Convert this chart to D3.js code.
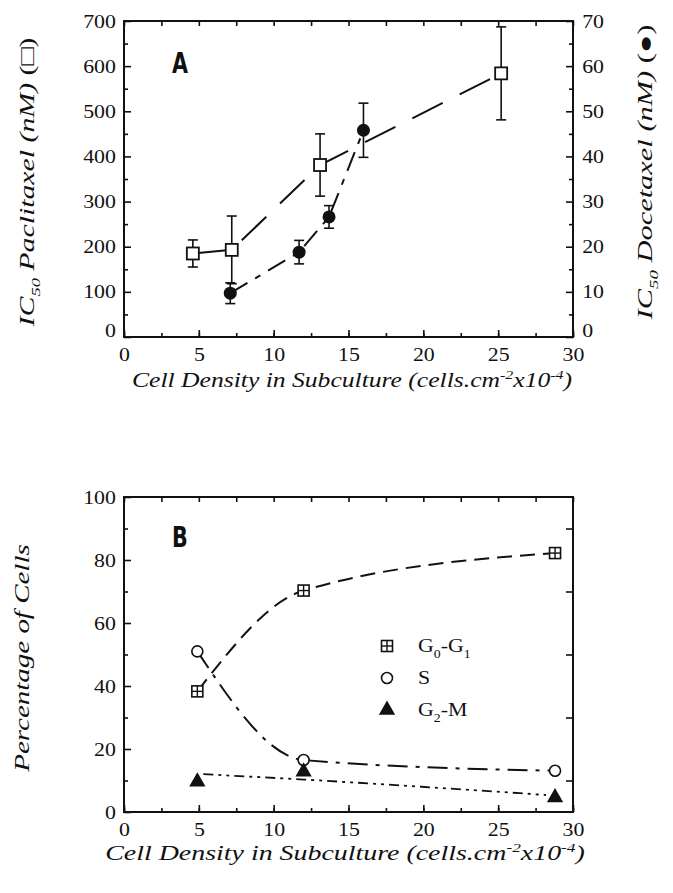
<!DOCTYPE html>
<html>
<head>
<meta charset="utf-8">
<script src="https://cdn.jsdelivr.net/npm/d3@7"></script>
<style>
  body { margin: 0; background: #fff; }
  svg { display: block; }
</style>
</head>
<body>
<div id="chart"></div>
<script>
// Panel A - IC50 against subculture density
const paclDensity = [4.6, 7.2, 13.1, 25.2];
const paclIC50 = [185, 193, 381, 584];
const paclErr = [30, 75, 69, 103];

const doceDensity = [7.1, 11.7, 13.7, 16.0];
const doceIC50 = [9.7, 18.8, 26.6, 45.8];
const doceErr = [2.3, 2.6, 2.5, 6.0];

// Panel B - cell cycle distribution
const cycleDensity = [4.9, 12.0, 28.8];
const g0g1 = [38.3, 70.3, 82.2];
const sPhase = [51.0, 16.5, 13.1];
const g2m = [9.6, 12.8, 4.6];
// G2-M trend line (it does not go through the points)
const g2mFitX = [5.3, 12.0, 20.6, 28.2];
const g2mFitY = [12.0, 10.3, 7.8, 5.4];

const xTicks = [0, 5, 10, 15, 20, 25, 30];
const paclTicks = [0, 100, 200, 300, 400, 500, 600, 700];
const doceTicks = [0, 10, 20, 30, 40, 50, 60, 70];
const pctTicks = [0, 20, 40, 60, 80, 100];

const width = 673, height = 893;
const left = 124, right = 573;
const serif = "'Liberation Serif', 'Times New Roman', serif";
const ink = "#111";

const svg = d3.select("#chart").append("svg")
  .attr("width", width)
  .attr("height", height);

const x = d3.scaleLinear().domain([0, 30]).range([left, right]);
const yA = d3.scaleLinear().domain([0, 700]).range([337, 21]);
const yA2 = d3.scaleLinear().domain([0, 70]).range([337, 21]);
const yB = d3.scaleLinear().domain([0, 100]).range([812, 497]);

const minorX = d3.range(0, 30.01, 2.5);

// boxed frame, every tick pointing inwards
function frame(y, yMajor, yMinor, withRightLabels, yRight) {
  const top = y.range()[1], bottom = y.range()[0];
  const g = svg.append("g");

  g.append("g")
    .attr("transform", `translate(0,${bottom})`)
    .call(d3.axisBottom(x).tickValues(xTicks).tickSize(-7).tickPadding(11).tickFormat(d3.format("d")))
    .call(a => a.select(".domain").remove());
  g.append("g")
    .attr("transform", `translate(0,${bottom})`)
    .call(d3.axisBottom(x).tickValues(minorX).tickSize(-4).tickFormat(""))
    .call(a => a.select(".domain").remove());
  g.append("g")
    .attr("transform", `translate(0,${top})`)
    .call(d3.axisTop(x).tickValues(minorX).tickSize(-5).tickFormat(""))
    .call(a => a.select(".domain").remove());

  const yAxis = g.append("g")
    .attr("transform", `translate(${left},0)`)
    .call(d3.axisLeft(y).tickValues(yMajor).tickSize(-7).tickPadding(7))
    .call(a => a.select(".domain").remove());
  g.append("g")
    .attr("transform", `translate(${left},0)`)
    .call(d3.axisLeft(y).tickValues(yMinor).tickSize(-4).tickFormat(""))
    .call(a => a.select(".domain").remove());

  let rAxis = null;
  if (withRightLabels) {
    rAxis = g.append("g")
      .attr("transform", `translate(${right},0)`)
      .call(d3.axisRight(yRight).tickValues(doceTicks).tickSize(-7).tickPadding(8))
      .call(a => a.select(".domain").remove());
    g.append("g")
      .attr("transform", `translate(${right},0)`)
      .call(d3.axisRight(yRight).tickValues(d3.range(5, 70, 10)).tickSize(-4).tickFormat(""))
      .call(a => a.select(".domain").remove());
  } else {
    g.append("g")
      .attr("transform", `translate(${right},0)`)
      .call(d3.axisRight(y).tickValues(yMinor).tickSize(-7).tickFormat(""))
      .call(a => a.select(".domain").remove());
  }

  g.selectAll(".tick line").attr("stroke", ink).attr("stroke-width", 1.6);
  // the scanned figure uses a wide Times face
  g.selectAll(".tick text")
    .style("font-family", serif)
    .style("font-size", "19px")
    .attr("fill", ink)
    .attr("transform", "scale(1.15,1)");

  // in panel A the two zeros sit a little above the x axis
  if (withRightLabels) {
    [yAxis, rAxis].forEach(a => a.selectAll(".tick text").filter(d => d === 0).attr("dy", "-0.02em"));
  }

  g.append("rect")
    .attr("x", left).attr("y", top)
    .attr("width", right - left).attr("height", bottom - top)
    .attr("fill", "none").attr("stroke", ink).attr("stroke-width", 2);
}

frame(yA, paclTicks, d3.range(50, 700, 100), true, yA2);
frame(yB, pctTicks, d3.range(10, 100, 20), false);

// ---------- panel A marks ----------
const paclLine = d3.line().x(d => x(d[0])).y(d => yA(d[1]));
svg.append("path")
  .datum(d3.zip(paclDensity, paclIC50))
  .attr("d", paclLine)
  .attr("fill", "none").attr("stroke", ink).attr("stroke-width", 2)
  .attr("stroke-dasharray", "34,19");

const doceLine = d3.line().x(d => x(d[0])).y(d => yA2(d[1]));
svg.append("path")
  .datum(d3.zip(doceDensity, doceIC50))
  .attr("d", doceLine)
  .attr("fill", "none").attr("stroke", ink).attr("stroke-width", 2)
  .attr("stroke-dasharray", "20,9,6,9");

function errorBars(xs, ys, es, yScale) {
  const g = svg.append("g").attr("stroke", ink).attr("stroke-width", 1.6);
  xs.forEach((d, i) => {
    const cx = x(d), y0 = yScale(ys[i] - es[i]), y1 = yScale(ys[i] + es[i]);
    g.append("line").attr("x1", cx).attr("x2", cx).attr("y1", y0).attr("y2", y1);
    g.append("line").attr("x1", cx - 5).attr("x2", cx + 5).attr("y1", y0).attr("y2", y0);
    g.append("line").attr("x1", cx - 5).attr("x2", cx + 5).attr("y1", y1).attr("y2", y1);
  });
}
errorBars(paclDensity, paclIC50, paclErr, yA);
errorBars(doceDensity, doceIC50, doceErr, yA2);

svg.append("g").selectAll("rect")
  .data(d3.zip(paclDensity, paclIC50))
  .join("rect")
  .attr("x", d => x(d[0]) - 6).attr("y", d => yA(d[1]) - 6)
  .attr("width", 12).attr("height", 12)
  .attr("fill", "#fff").attr("stroke", ink).attr("stroke-width", 1.8);

svg.append("g").selectAll("circle")
  .data(d3.zip(doceDensity, doceIC50))
  .join("circle")
  .attr("cx", d => x(d[0])).attr("cy", d => yA2(d[1]))
  .attr("r", 6.5).attr("fill", ink);

// ---------- panel B marks ----------
const curveB = d3.line().x(d => x(d[0])).y(d => yB(d[1])).curve(d3.curveMonotoneX);

svg.append("path")
  .datum(d3.zip(cycleDensity, g0g1))
  .attr("d", curveB)
  .attr("fill", "none").attr("stroke", ink).attr("stroke-width", 2)
  .attr("stroke-dasharray", "15,8");

svg.append("path")
  .datum(d3.zip(cycleDensity, sPhase))
  .attr("d", curveB)
  .attr("fill", "none").attr("stroke", ink).attr("stroke-width", 2)
  .attr("stroke-dasharray", "20,8,4,8");

svg.append("path")
  .datum(d3.zip(g2mFitX, g2mFitY))
  .attr("d", curveB)
  .attr("fill", "none").attr("stroke", ink).attr("stroke-width", 1.8)
  .attr("stroke-dasharray", "10,5,3,5,3,5");

function plusSquare(g, cx, cy, s) {
  g.append("rect").attr("x", cx - s / 2).attr("y", cy - s / 2)
    .attr("width", s).attr("height", s)
    .attr("fill", "#fff").attr("stroke", ink).attr("stroke-width", 1.6);
  g.append("line").attr("x1", cx).attr("x2", cx).attr("y1", cy - s / 2).attr("y2", cy + s / 2)
    .attr("stroke", ink).attr("stroke-width", 1.4);
  g.append("line").attr("x1", cx - s / 2).attr("x2", cx + s / 2).attr("y1", cy).attr("y2", cy)
    .attr("stroke", ink).attr("stroke-width", 1.4);
}
const tri = d3.symbol().type(d3.symbolTriangle).size(115);

const marksB = svg.append("g");
cycleDensity.forEach((d, i) => {
  plusSquare(marksB, x(d), yB(g0g1[i]), 11);
  marksB.append("circle").attr("cx", x(d)).attr("cy", yB(sPhase[i])).attr("r", 5.5)
    .attr("fill", "#fff").attr("stroke", ink).attr("stroke-width", 1.6);
  marksB.append("path").attr("d", tri)
    .attr("transform", `translate(${x(d)},${yB(g2m[i])})`).attr("fill", ink);
});

// legend
const leg = svg.append("g");
plusSquare(leg, 387, 646, 11);
leg.append("circle").attr("cx", 387).attr("cy", 678).attr("r", 5.5)
  .attr("fill", "#fff").attr("stroke", ink).attr("stroke-width", 1.6);
leg.append("path").attr("d", tri).attr("transform", "translate(387,710)").attr("fill", ink);

const legText = [["G", "0", "-G", "1"], ["S"], ["G", "2", "-M"]];
legText.forEach((parts, i) => {
  const t = leg.append("text")
    .attr("transform", `translate(418,${652 + i * 32}) scale(1.15,1)`)
    .style("font-family", serif).style("font-size", "19px").attr("fill", ink);
  parts.forEach((p, j) => {
    const sub = j % 2 === 1;
    t.append("tspan").text(p)
      .style("font-size", sub ? "12px" : "19px")
      .attr("dy", sub ? 6 : (j > 0 ? -6 : 0));
  });
});

// panel letters, a narrow heavy sans in the original
[["A", 172, 73], ["B", 172, 547]].forEach(([s, lx, ly]) => {
  svg.append("text")
    .attr("transform", `translate(${lx},${ly}) scale(0.74,1)`)
    .text(s)
    .style("font-family", "'DejaVu Sans', sans-serif").style("font-weight", "bold").style("font-size", "28px")
    .attr("fill", ink);
});

// axis titles
function densityTitle(cx, y, size, sx) {
  const t = svg.append("text")
    .attr("transform", `translate(${cx},${y}) scale(${sx},1)`)
    .attr("text-anchor", "middle").attr("fill", ink)
    .style("font-family", serif).style("font-style", "italic").style("font-size", size + "px");
  t.append("tspan").text("Cell Density in Subculture (cells.cm");
  t.append("tspan").text("-2").style("font-size", size * 0.62 + "px").attr("dy", -size * 0.4);
  t.append("tspan").text("x10").attr("dy", size * 0.4);
  t.append("tspan").text("-4").style("font-size", size * 0.62 + "px").attr("dy", -size * 0.4);
  t.append("tspan").text(")").attr("dy", size * 0.4);
}
densityTitle(352, 387, 21, 1.22);
densityTitle(345, 860, 21, 1.33);

function icTitle(cx, cy, drug, mark, size, sx) {
  const t = svg.append("text")
    .attr("transform", `translate(${cx},${cy}) rotate(-90) scale(${sx},1)`)
    .attr("text-anchor", "middle").attr("fill", ink)
    .style("font-family", serif).style("font-style", "italic").style("font-size", size + "px");
  t.append("tspan").text("IC");
  t.append("tspan").text("50").style("font-size", size * 0.62 + "px").attr("dy", size * 0.3);
  t.append("tspan").text(" " + drug + " (nM)").attr("dy", -size * 0.3);
  t.append("tspan").text(mark).style("font-style", "normal");
}
icTitle(34, 182, "Paclitaxel", " (\u25A1)", 21, 1.42);
icTitle(652, 172, "Docetaxel", "  (\u25CF)", 21, 1.45);

svg.append("text")
  .attr("transform", "translate(29,658) rotate(-90) scale(1.38,1)")
  .attr("text-anchor", "middle").attr("fill", ink)
  .style("font-family", serif).style("font-style", "italic").style("font-size", "21px")
  .text("Percentage of Cells");
</script>
</body>
</html>
